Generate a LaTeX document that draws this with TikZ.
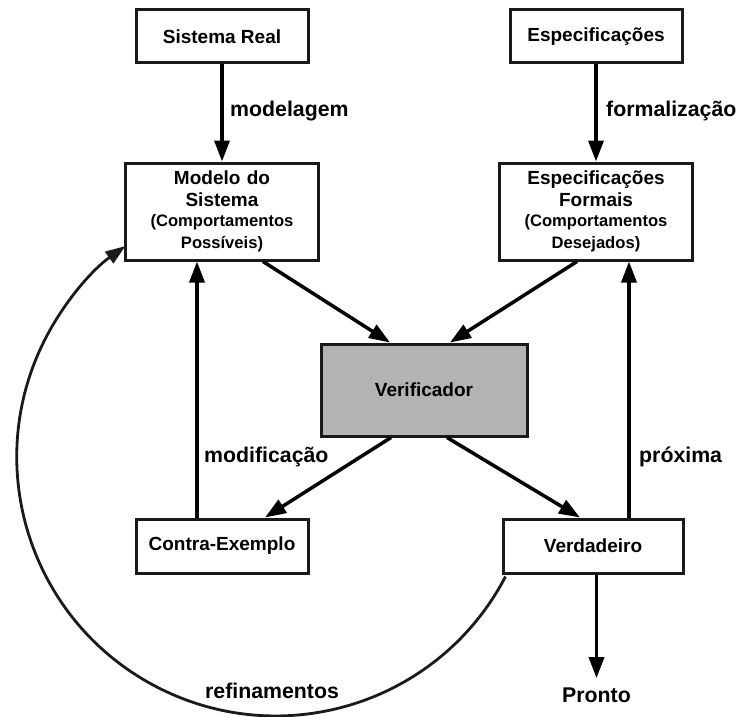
\documentclass[tikz,border=0pt]{standalone}
\usepackage{fontspec}
\setmainfont{Liberation Sans}
\usetikzlibrary{arrows.meta}
\definecolor{ink}{HTML}{1A1A1A}
\definecolor{vfill}{HTML}{B3B3B3}
\tikzset{
  box/.style={draw=ink, line width=3pt, fill=white, inner sep=2pt,
    font=\bfseries\fontsize{19}{22}\selectfont, align=center},
  arr/.style={draw=black, line width=3.5pt, -{Triangle[length=21pt,width=15pt]}},
  arcarr/.style={draw=ink, line width=2.8pt, -{Triangle[length=20pt,width=14pt]}},
  lab/.style={font=\bfseries\fontsize{21.3}{24}\selectfont, inner sep=0pt, anchor=base west},
}
\begin{document}
\begin{tikzpicture}[x=1pt,y=-1pt]
\useasboundingbox (0,0) rectangle (737,717);
% boxes
\node[box, minimum width=172pt, minimum height=53pt] (sr) at (222,36.5) {Sistema Real};
\node[box, minimum width=172pt, minimum height=53pt] (esp) at (596,36.5) {Especificações};
\node[box, minimum width=193pt, minimum height=97pt, text width=185pt] (mod) at (222,211.5)
  {Modelo do\\Sistema\par\fontsize{16.6}{20}\selectfont(Comportamentos\\Possíveis)};
\node[box, minimum width=193pt, minimum height=97pt, text width=185pt] (ef) at (596,211.5)
  {Especificações\\Formais\par\fontsize{16.6}{20}\selectfont(Comportamentos\\Desejados)};
\node[box, fill=vfill, minimum width=206pt, minimum height=92pt] (verif) at (424,390) {Verificador};
\node[box, minimum width=172pt, minimum height=54pt] (contra) at (222,546) {Contra-Exemplo};
\node[box, minimum width=180pt, minimum height=54pt] (verd) at (593,546) {Verdadeiro};
\node[lab, anchor=base, inner ysep=9pt] (pronto) at (596.5,702) {Pronto};
% labels
\node[lab] (lmod) at (230,117) {modelagem};
\node[lab] (lform) at (606,117) {formalização};
\node[lab] (lmodif) at (204,462) {modificação};
\node[lab] (lprox) at (639,462) {próxima};
\node[lab] (lref) at (205,698) {refinamentos};
% arrows
\draw[arr] (sr.south) -- (mod.north);
\draw[arr] (esp.south) -- (ef.north);
\draw[arr] ([xshift=41pt]mod.south) -- ([xshift=-34pt]verif.north);
\draw[arr] ([xshift=-19pt]ef.south) -- ([xshift=26pt]verif.north);
\draw[arr] ([xshift=-33pt]verif.south) -- ([xshift=43pt]contra.north);
\draw[arr] ([xshift=23pt]verif.south) -- ([xshift=-13pt]verd.north);
\draw[arr] ([xshift=-25pt]contra.north) -- ([xshift=-25pt]mod.south);
\draw[arr] ([xshift=36pt]verd.north) -- ([xshift=36pt]verd.north |- ef.south);
\draw[arr] (pronto.north |- verd.south) -- (pronto.north);
\draw[arcarr] ([xshift=4pt,yshift=-2pt]verd.south west) arc[start angle=-27.5, end angle=-234.5, radius=259pt];
\end{tikzpicture}
\end{document}
